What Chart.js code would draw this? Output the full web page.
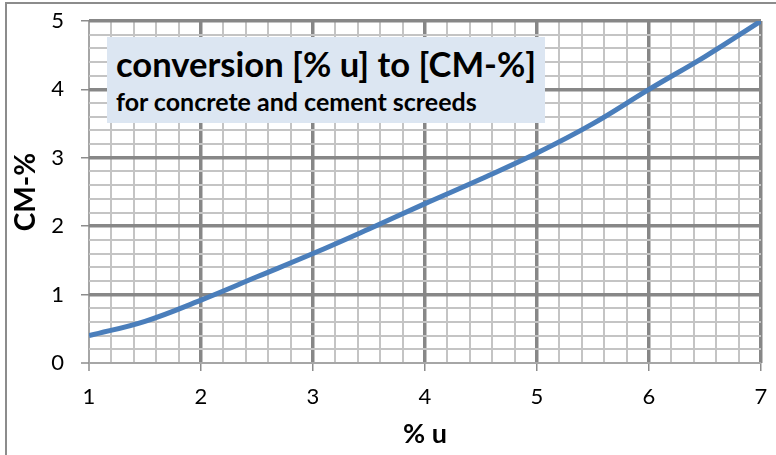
<!DOCTYPE html>
<html>
<head>
<meta charset="utf-8">
<script src="https://cdn.jsdelivr.net/npm/chart.js@4"></script>
<style>
  body { margin: 0; background: #fff; overflow: hidden; }
  .wrap { position: relative; width: 776px; height: 455px; overflow: hidden; }
  .frame { position: absolute; left: 5px; top: 2px; width: 900px; height: 600px; border: 2px solid #8c8c8c; pointer-events: none; }
  .box { position: absolute; left: 107px; top: 37px; width: 438px; height: 86px; background: #dce6f2; font-family: Lato, sans-serif; font-weight: bold; color: #000; }
  .box .t1 { position: absolute; left: 9px; top: 7px; font-size: 34.6px; line-height: 40px; white-space: nowrap; }
  .box .t2 { position: absolute; left: 9px; top: 49px; font-size: 25px; line-height: 30px; white-space: nowrap; }
</style>
</head>
<body>
<div class="wrap">
  <canvas id="myChart" width="776" height="455"></canvas>
  <div class="frame"></div>
  <div class="box">
    <div class="t1">conversion [% u] to [CM-%]</div>
    <div class="t2">for concrete and cement screeds</div>
  </div>
</div>
<script>
// % u -> CM-%
let percentU = [1, 1.5, 2, 2.5, 3, 3.5, 4, 4.5, 5, 5.5, 6, 6.5, 7];
let cmPercent = [0.4, 0.61, 0.92, 1.26, 1.6, 1.96, 2.33, 2.69, 3.07, 3.5, 4.0, 4.48, 5.0];
let xTitle = "% u";
let yTitle = "CM-%";

const isMajor = (v) => Math.abs(v - Math.round(v)) < 1e-6;

function gridColor(ctx) {
  if (ctx.index === 0) return "#a6a6a6";
  return isMajor(ctx.tick.value) ? "#878787" : "#c4c4c4";
}
function gridWidth(ctx) {
  if (ctx.index === 0) return 2;
  return isMajor(ctx.tick.value) ? 3.5 : 2;
}
function tickColor(ctx) {
  return isMajor(ctx.tick.value) ? "#8c8c8c" : "rgba(0,0,0,0)";
}

const data = {
  datasets: [
    {
      data: percentU.map((x, i) => ({ x: x, y: cmPercent[i] })),
      borderColor: "#4a7ebb",
      borderWidth: 5,
      pointRadius: 0,
      showLine: true,
      tension: 0.4,
    },
  ],
};

new Chart(document.getElementById("myChart"), {
  type: "scatter",
  data: data,
  options: {
    responsive: false,
    animation: false,
    layout: { padding: { left: 6, top: 21, right: 15, bottom: 0 } },
    plugins: {
      legend: { display: false },
      tooltip: { enabled: false },
    },
    scales: {
      x: {
        min: 1,
        max: 7,
        afterFit: (s) => {
          s.height = 92;
          s.paddingLeft = 0;
          s.paddingRight = 0;
        },
        border: { display: false },
        grid: {
          color: gridColor,
          lineWidth: gridWidth,
          tickColor: tickColor,
          tickWidth: 1.5,
          tickLength: 8,
        },
        ticks: {
          stepSize: 0.2,
          autoSkip: false,
          maxRotation: 0,
          padding: 13,
          color: "#000",
          font: { family: "Lato", size: 22 },
          callback: (v) => (isMajor(v) ? Math.round(v) : ""),
        },
        title: {
          display: true,
          text: xTitle,
          color: "#000",
          font: { family: "Lato", size: 27, weight: "bold" },
          padding: { top: 0, bottom: 5 },
        },
      },
      y: {
        min: 0,
        max: 5,
        afterFit: (s) => {
          s.width = 83;
          s.paddingTop = 0;
          s.paddingBottom = 0;
        },
        border: { display: false },
        grid: {
          color: gridColor,
          lineWidth: gridWidth,
          tickColor: tickColor,
          tickWidth: 1.5,
          tickLength: 8,
        },
        ticks: {
          stepSize: 0.2,
          autoSkip: false,
          padding: 17,
          color: "#000",
          font: { family: "Lato", size: 22 },
          callback: (v) => (isMajor(v) ? Math.round(v) : ""),
        },
        title: {
          display: true,
          text: yTitle,
          color: "#000",
          font: { family: "Lato", size: 28, weight: "bold" },
          padding: { top: 3, bottom: 0 },
        },
      },
    },
  },
});
</script>
</body>
</html>
